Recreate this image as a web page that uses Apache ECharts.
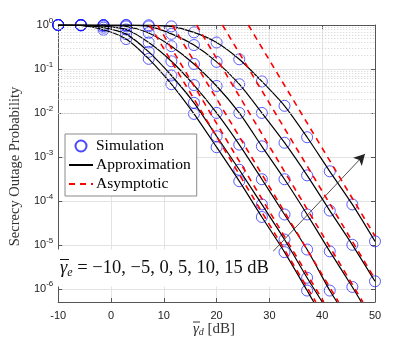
<!DOCTYPE html>
<html>
<head>
<meta charset="utf-8">
<script src="https://cdn.jsdelivr.net/npm/echarts@6/dist/echarts.min.js"></script>
<style>
  html, body { margin: 0; padding: 0; background: #fff; }
  #chart { width: 415px; height: 340px; }
</style>
</head>
<body>
<div id="chart"></div>
<script>
// simulated SNR points, dB
const gammaD = [-10, -5.71, -1.43, 2.86, 7.14, 11.43, 15.71, 20, 24.29, 28.57, 32.86, 37.14, 41.43, 45.71, 50]
const gammaE = [-10, -5, 0, 5, 10, 15]

// secrecy outage probability, one row per gamma_e
const simA = [0.995, 0.975, 0.78, 0.48, 0.17, 0.045, 9.5e-3, 1.66e-3, 2.8e-4, 4.3e-5, 6.8e-6, 9.1e-7]
const simB = [0.997, 0.985, 0.87, 0.62, 0.245, 0.071, 0.017, 2.95e-3, 5.1e-4, 8.3e-5, 1.32e-5, 1.78e-6]
const simC = [0.999, 0.995, 0.94, 0.79, 0.40, 0.15, 0.043, 0.010, 1.9e-3, 3.1e-4, 4.9e-5, 7.8e-6, 9.1e-7]
const simD = [1, 0.999, 0.98, 0.93, 0.66, 0.33, 0.13, 0.041, 0.010, 1.74e-3, 3.1e-4, 4.9e-5, 7.1e-6, 1.1e-6]
const simE = [1, 1, 0.995, 0.99, 0.93, 0.63, 0.35, 0.145, 0.045, 0.010, 2.1e-3, 3.8e-4, 6.0e-5, 1.0e-5, 1.48e-6]
const simF = [1, 1, 1, 1, 0.99, 0.93, 0.68, 0.40, 0.166, 0.052, 0.0145, 2.8e-3, 4.7e-4, 8.3e-5, 1.2e-5]
const simRows = [simA, simB, simC, simD, simE, simF]

// where the approximation curves leave the bottom of the plot (dB), null = not reached
const approxExit = [38.4, 40.0, 42.8, 47.4, null, null]

// asymptotes: straight lines [x, P] start and end
const asymStart = [[7.3, 1], [8.8, 1], [11.6, 1], [16.2, 1], [21.1, 1], [26.0, 1]]
const asymEnd = [[38.8, 5e-7], [40.3, 5e-7], [43.1, 5e-7], [47.7, 5e-7], [50, 1.66e-6], [50, 1.58e-5]]

const Y_MIN = 5e-7

const minorY = []
for (let k = -7; k < 0; k++) for (let m = 2; m <= 9; m++) {
  const v = m * Math.pow(10, k)
  if (v > Y_MIN && v < 1) minorY.push(v)
}

const serif = 'Liberation Serif'
const sans = 'Liberation Sans'

const logLabel = v => {
  const l = Math.log10(v), r = Math.round(l)
  if (Math.abs(l - r) > 1e-6) return ''
  return `{b|10}{s|${r}}`
}

const chart = echarts.init(document.getElementById('chart'), null, { renderer: 'canvas' })

const series = []
// minor grid lines
series.push({
  type: 'line', data: [], silent: true, z: 1,
  markLine: {
    silent: true, symbol: 'none', label: { show: false },
    lineStyle: { type: [1, 2], color: '#cfcfcf', width: 1 },
    data: minorY.map(v => ({ yAxis: v })),
  },
})
simRows.forEach((row, i) => {
  const pts = row.map((p, j) => [gammaD[j], p])
  series.push({
    name: 'Simulation', type: 'scatter', z: 3,
    symbol: 'circle', symbolSize: 11,
    itemStyle: { color: 'rgba(0,0,0,0)', borderColor: '#1a1aff', borderWidth: 0.9 },
    data: pts,
  })
  const ap = pts.slice()
  if (approxExit[i] !== null) ap.push([approxExit[i], Y_MIN])
  series.push({
    name: 'Approximation', type: 'line', z: 4, smooth: 0.25,
    symbol: 'none', clip: true,
    lineStyle: { color: '#000', width: 1.2 },
    itemStyle: { color: '#000' },
    data: ap,
  })
  series.push({
    name: 'Asymptotic', type: 'line', z: 5, symbol: 'none', clip: true,
    lineStyle: { color: '#ff0000', width: 1.6, type: [6, 5] },
    itemStyle: { color: '#ff0000' },
    data: [asymStart[i], asymEnd[i]],
  })
})
// arrow for increasing gamma_e
series.push({
  type: 'line', data: [], silent: true, z: 6,
  markLine: {
    silent: true, symbol: ['none', 'arrow'], symbolSize: [9, 11], label: { show: false },
    lineStyle: { type: 'solid', color: '#222', width: 0.8 },
    data: [[{ coord: [30.7, 7.1e-6] }, { coord: [48.1, 1.17e-3] }]],
  },
})

const noDot = { color: 'rgba(0,0,0,0)', borderWidth: 0 }

chart.setOption({
  animation: false,
  backgroundColor: '#fff',
  grid: { left: 54, right: 40, top: 25, bottom: 38 },
  legend: {
    data: [
      { name: 'Simulation' },
      { name: 'Approximation', itemStyle: noDot },
      { name: 'Asymptotic', itemStyle: noDot },
    ],
    orient: 'vertical', left: 65, top: 134,
    itemWidth: 24, itemHeight: 11, itemGap: 3,
    padding: [4, 6, 4, 3],
    backgroundColor: '#fff', borderColor: '#8a8a8a', borderWidth: 1, borderRadius: 0,
    textStyle: { fontFamily: serif, fontSize: 15.5, color: '#000', padding: [0, 0, 0, -2] },
  },
  xAxis: [{
    type: 'value', min: -10, max: 50, interval: 10,
    axisLine: { show: true, lineStyle: { color: '#555', width: 1 } },
    axisTick: { show: true, inside: true, length: 4, lineStyle: { color: '#555' } },
    axisLabel: { fontFamily: sans, fontSize: 11, color: '#222', margin: 8 },
    splitLine: { show: true, lineStyle: { color: '#e3e3e3', width: 1 } },
  }, {
    type: 'value', min: -10, max: 50, interval: 10, position: 'top',
    axisLine: { show: true, lineStyle: { color: '#555', width: 1 } },
    axisTick: { show: true, inside: true, length: 4, lineStyle: { color: '#555' } },
    axisLabel: { show: false }, splitLine: { show: false },
  }],
  yAxis: [{
    type: 'log', logBase: 10, min: Y_MIN, max: 1,
    name: 'Secrecy Outage Probability', nameLocation: 'middle', nameGap: 35,
    nameTextStyle: { fontFamily: serif, fontSize: 14.5, color: '#333', padding: [0, 6, 0, 0] },
    axisLine: { show: true, onZero: false, lineStyle: { color: '#555', width: 1 } },
    axisTick: { show: true, inside: true, length: 4, lineStyle: { color: '#555' } },
    axisLabel: {
      formatter: logLabel, margin: 5, color: '#222',
      rich: {
        b: { fontFamily: sans, fontSize: 11, color: '#222' },
        s: { fontFamily: sans, fontSize: 8, color: '#222', padding: [0, 0, 9, 0] },
      },
    },
    splitLine: { show: true, lineStyle: { color: '#e3e3e3', width: 1 } },
  }, {
    type: 'log', logBase: 10, min: Y_MIN, max: 1, position: 'right',
    axisLine: { show: true, onZero: false, lineStyle: { color: '#555', width: 1 } },
    axisTick: { show: true, inside: true, length: 4, lineStyle: { color: '#555' } },
    axisLabel: { show: false }, splitLine: { show: false },
  }],
  graphic: [
    // gamma_e annotation with white box
    {
      type: 'text', x: 57, y: 268, z: 100,
      style: {
        text: '{g|γ}{e|e}{t| = −10, −5, 0, 5, 10, 15 dB}',
        verticalAlign: 'middle',
        backgroundColor: '#fff', padding: [8, 4, 8, 3],
        rich: {
          g: { fontFamily: serif, fontSize: 18.5, fontStyle: 'italic', fill: '#111' },
          e: { fontFamily: serif, fontSize: 12, fontStyle: 'italic', fill: '#111', padding: [9, 0, 0, 0] },
          t: { fontFamily: serif, fontSize: 18.5, fill: '#111' },
        },
      },
    },
    { type: 'line', z: 101, shape: { x1: 60, y1: 259.5, x2: 69, y2: 259.5 }, style: { stroke: '#111', lineWidth: 1 } },
    // x axis name
    {
      type: 'text', x: 214, y: 329, z: 100,
      style: {
        text: '{g|γ}{d|d}{t| [dB]}',
        align: 'center', verticalAlign: 'middle',
        rich: {
          g: { fontFamily: serif, fontSize: 15, fontStyle: 'italic', fill: '#333' },
          d: { fontFamily: serif, fontSize: 10, fontStyle: 'italic', fill: '#333', padding: [7, 0, 0, 0] },
          t: { fontFamily: serif, fontSize: 15, fill: '#333' },
        },
      },
    },
    { type: 'line', z: 101, shape: { x1: 193, y1: 322, x2: 200, y2: 322 }, style: { stroke: '#333', lineWidth: 1 } },
  ],
  series,
})
</script>
</body>
</html>
